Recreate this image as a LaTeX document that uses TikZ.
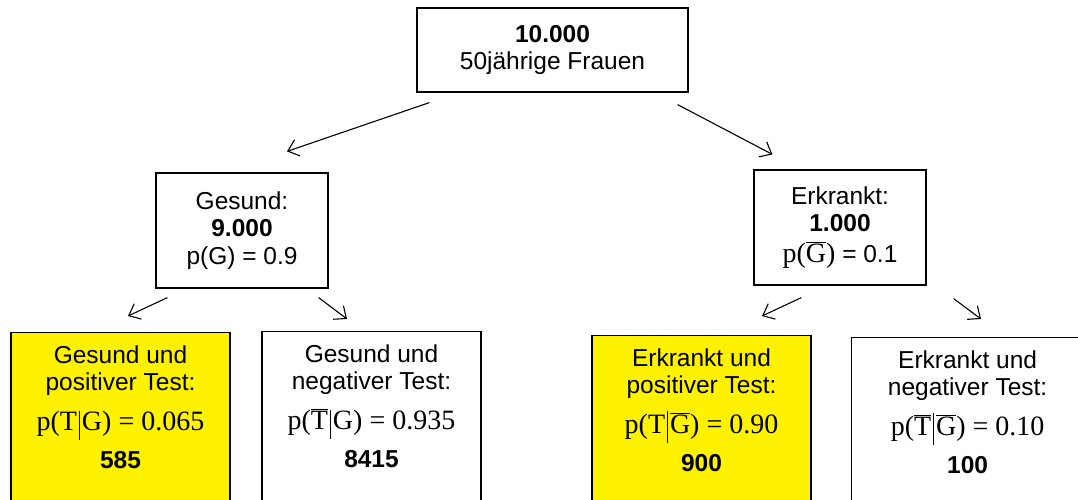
\documentclass[tikz,border=0pt]{standalone}
\usepackage{fontspec}
\setmainfont{Liberation Sans}
\newfontfamily\timesf{Liberation Serif}
\usetikzlibrary{arrows.meta,calc}

\newcommand{\ovl}[1]{$\overline{\hbox{#1}}$}
\newcommand{\given}[1][29pt]{\hspace{2pt}\rule[-10pt]{0.9pt}{#1}\hspace{2pt}}
\newcommand{\formel}[1]{{\timesf\fontsize{28}{28}\selectfont #1}}

\begin{document}
\begin{tikzpicture}[x=1pt, y=-1pt, font=\fontsize{24.5}{27.5}\selectfont,
  box/.style={draw, line width=1.2pt, align=center, inner xsep=6pt, inner ysep=8pt},
  leaf/.style={box, anchor=north, minimum width=219pt, inner ysep=13pt, text depth=45pt},
  hit/.style={fill=yellow},
  arr/.style={line width=1.1pt, -{Straight Barb[length=10pt, width=17pt]}}]
\useasboundingbox (0,0) rectangle (1078,499);
\clip (0,0) rectangle (1078,499);
% root and first level
\node[box, minimum width=271pt, minimum height=84pt] (all) at (552.5,50) {\textbf{10.000}\\50jährige Frauen};
\node[box, minimum width=172pt, minimum height=115pt] (ges) at (242,230.5) {Gesund:\\\textbf{9.000}\\p(G) = 0.9};
\node[box, minimum width=172pt, minimum height=115pt] (erk) at (840,227.5) {Erkrankt:\\\textbf{1.000}\\[3pt]{\timesf\fontsize{28}{28}\selectfont p(\ovl{G})} = 0.1};
% leaves
\node[leaf, hit] (gpos) at (120.5,332) {Gesund und\\positiver Test:\\[12pt]\formel{p(T\given G) = 0.065}\\[11pt]\textbf{585}};
\node[leaf] (gneg) at (371.5,331) {Gesund und\\negativer Test:\\[12pt]\formel{p(\ovl{T}\given G) = 0.935}\\[11pt]\textbf{8415}};
\node[leaf, hit] (epos) at (701.5,335) {Erkrankt und\\positiver Test:\\[12pt]\formel{p(T\given[32pt]\ovl{G}) = 0.90}\\[11pt]\textbf{900}};
\node[leaf, anchor=north west, minimum width=232pt] (eneg) at (851,337) {Erkrankt und\\negativer Test:\\[12pt]\formel{p(\ovl{T}\given[32pt]\ovl{G}) = 0.10}\\[11pt]\textbf{100}};
% arrows
\draw[arr] ($(all.south west)+(13,10)$) -- ($(ges.north)+(45,-21)$);
\draw[arr] ($(all.south east)+(-11,12)$) -- ($(erk.north west)+(19,-15)$);
\draw[arr] ($(ges.south west)+(12,9)$) -- ($(gpos.north)+(7.5,-16)$);
\draw[arr] ($(ges.south east)+(-10,9)$) -- ($(gneg.north)+(-24.5,-12)$);
\draw[arr] ($(erk.south west)+(48,12)$) -- ($(epos.north)+(60.5,-19)$);
\draw[arr] ($(erk.south east)+(27,13)$) -- ($(eneg.north west)+(130,-18)$);
\end{tikzpicture}
\end{document}
